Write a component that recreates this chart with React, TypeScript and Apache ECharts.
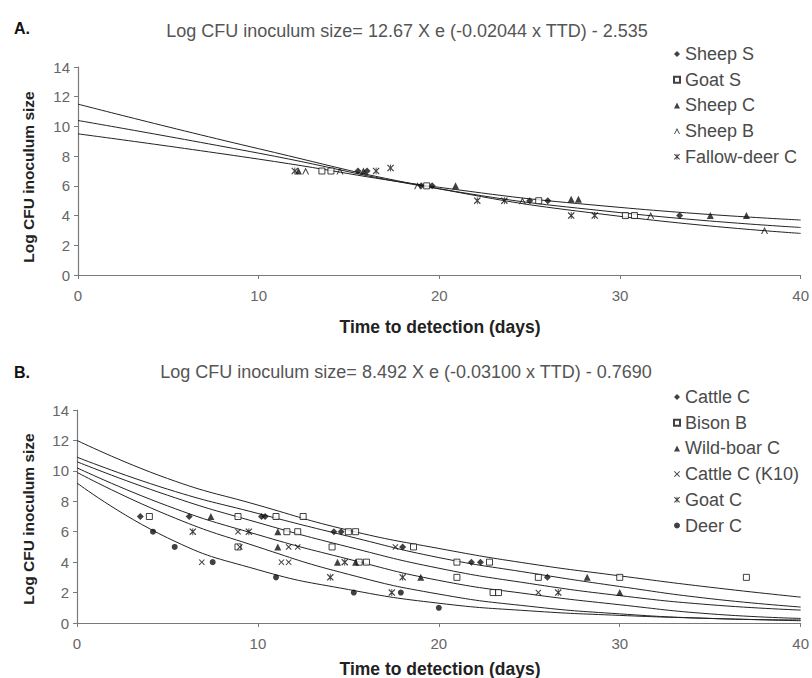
import React, { useEffect, useRef } from 'react';
import * as echarts from 'echarts';

// ---- texts ----
const panelLabelA = 'A.';
const panelLabelB = 'B.';
const titleA = 'Log CFU inoculum size= 12.67 X e (-0.02044 x TTD) - 2.535';
const titleB = 'Log CFU inoculum size= 8.492 X e (-0.03100 x TTD) - 0.7690';
const yAxisTitle = 'Log CFU inoculum size';
const xAxisTitle = 'Time to detection (days)';

// ---- axes ----
const xMin = 0, xMax = 40, xStep = 10;
const yMin = 0, yMax = 14, yStep = 2;

// ---- panel A data [days, log CFU] ----
const namesA = ['Sheep S', 'Goat S', 'Sheep C', 'Sheep B', 'Fallow-deer C'];
const sheepS = [[15.5, 7], [16.0, 7], [19.0, 6], [19.6, 6], [25.0, 5], [26.0, 5], [33.3, 4]];
const goatS = [[13.5, 7], [14.0, 7], [19.3, 6], [25.5, 5], [30.3, 4], [30.8, 4]];
const sheepC = [[12.2, 7], [15.8, 7], [20.9, 6], [27.3, 5.1], [27.7, 5.1], [35.0, 4], [37.0, 4]];
const sheepB = [[12.6, 7], [14.5, 7], [18.8, 6], [24.6, 5], [31.7, 4], [38.0, 3]];
const fallowDeerC = [[12.0, 7], [16.5, 7], [17.3, 7.2], [22.1, 5], [23.6, 5], [27.3, 4], [28.6, 4]];

const fitXA = [0, 10, 20, 30, 40];
const fitA1 = [11.5, 8.5, 5.8, 3.95, 2.8];
const fitA2 = [10.4, 8.2, 5.8, 4.2, 3.2];
const fitA3 = [9.5, 7.8, 5.9, 4.55, 3.7];

// ---- panel B data ----
const namesB = ['Cattle C', 'Bison B', 'Wild-boar C', 'Cattle C (K10)', 'Goat C', 'Deer C'];
const cattleC = [[3.5, 7], [6.2, 7], [10.2, 7], [10.4, 7], [14.2, 6], [14.6, 6], [18.0, 5], [21.8, 4], [22.3, 4], [26.0, 3]];
const bisonB = [[4.0, 7], [8.9, 7], [11.0, 7], [12.5, 7], [11.6, 6], [12.2, 6], [15.0, 6], [15.4, 6], [8.9, 5], [14.1, 5], [18.6, 5],
  [15.6, 4], [16.0, 4], [21.0, 3], [21.0, 4], [22.8, 4], [23.0, 2], [23.3, 2], [25.5, 3], [30.0, 3], [37.0, 3]];
const wildBoarC = [[7.4, 7], [11.1, 6], [11.1, 5], [14.4, 4], [15.4, 4], [19.0, 3], [28.2, 3], [30.0, 2]];
const cattleK10 = [[6.9, 4], [8.9, 6], [9.0, 5], [11.7, 5], [12.2, 5], [11.3, 4], [11.7, 4], [17.6, 5], [25.5, 2]];
const goatC = [[6.4, 6], [9.5, 6], [14.0, 3], [14.8, 4], [17.4, 2], [18.0, 3], [26.6, 2]];
const deerC = [[4.2, 6], [5.4, 5], [7.5, 4], [11.0, 3], [15.3, 2], [17.9, 2], [20.0, 1]];

const fitXB = [0, 5, 10, 15, 20, 25, 30, 35, 40];
const fitB1 = [12.0, 9.5, 7.75, 6.1, 4.9, 3.9, 3.1, 2.35, 1.7];
const fitB2 = [10.9, 8.8, 7.2, 5.7, 4.3, 3.3, 2.4, 1.6, 1.05];
const fitB3 = [10.6, 8.4, 6.6, 5.0, 3.6, 2.6, 1.8, 1.2, 0.85];
const fitB4 = [10.2, 7.7, 5.8, 4.2, 2.8, 1.9, 1.2, 0.6, 0.3];
const fitB5 = [9.9, 7.1, 5.0, 3.2, 1.9, 1.1, 0.6, 0.3, 0.2];
const fitB6 = [9.2, 5.6, 3.5, 2.2, 1.3, 0.8, 0.5, 0.3, 0.15];

// ---- symbols ----
const caret = 'path://M0,10L5,0L10,10L8.4,10L5,3.2L1.6,10Z';
const cross = 'path://M0,1.2L1.2,0L5,3.8L8.8,0L10,1.2L6.2,5L10,8.8L8.8,10L5,6.2L1.2,10L0,8.8L3.8,5Z';
const star = 'path://M0,1.2L1.2,0L5,3.8L8.8,0L10,1.2L6.2,5L10,8.8L8.8,10L5,6.2L1.2,10L0,8.8L3.8,5Z M4.4,0L5.6,0L5.6,10L4.4,10Z';

const FONT = 'Liberation Sans, Arial, sans-serif';

const App: React.FC = () => {
  const ref = useRef<HTMLDivElement>(null);
  useEffect(() => {
    if (!ref.current) return;
    const chart = echarts.init(ref.current, undefined, { renderer: 'svg' });

    const pts = (name: string, data: number[][], symbol: string, idx: number, size: number, open = false) => ({
      type: 'scatter', name, data, symbol, symbolSize: size, xAxisIndex: idx, yAxisIndex: idx, z: 3,
      itemStyle: open
        ? { color: '#ffffff', borderColor: '#111', borderWidth: 1 }
        : { color: '#111' },
    });
    const fit = (name: string, xs: number[], ys: number[], idx: number) => ({
      type: 'line', name, data: xs.map((x, i) => [x, ys[i]]), xAxisIndex: idx, yAxisIndex: idx,
      smooth: true, showSymbol: false, symbol: 'none', z: 2,
      lineStyle: { color: '#222', width: 1 },
    });

    const xAxis = (idx: number) => ({
      type: 'value', gridIndex: idx, min: xMin, max: xMax, interval: xStep,
      axisLine: { lineStyle: { color: '#7a7a7a', width: 1.2 } },
      axisTick: { show: true, length: 4, lineStyle: { color: '#7a7a7a' } },
      axisLabel: { color: '#666', fontSize: 15, fontFamily: FONT, margin: 13 },
      splitLine: { show: false },
    });
    const yAxis = (idx: number) => ({
      type: 'value', gridIndex: idx, min: yMin, max: yMax, interval: yStep,
      axisLine: { show: true, lineStyle: { color: '#7a7a7a', width: 1.2 } },
      axisTick: { show: true, length: 4, lineStyle: { color: '#7a7a7a' } },
      axisLabel: { color: '#666', fontSize: 15, fontFamily: FONT, margin: 8 },
      splitLine: { show: false },
    });
    const legend = (names: string[], top: number) => ({
      data: names, orient: 'vertical', left: 668, top,
      itemWidth: 6, itemHeight: 6, itemGap: 7.7,
      textStyle: { fontSize: 18, color: '#4a4a4a', fontFamily: FONT, lineHeight: 18 },
      selectedMode: false,
    });

    const txt = (text: string, x: number, y: number, size: number, bold: boolean, color: string, rot = 0) => ({
      type: 'text', x, y, rotation: rot,
      style: {
        text, fontSize: size, fontWeight: bold ? 'bold' : 'normal', fill: color, fontFamily: FONT,
        textAlign: 'center', textVerticalAlign: 'middle',
      },
    });

    chart.setOption({
      animation: false,
      backgroundColor: '#ffffff',
      grid: [
        { left: 78, top: 67, width: 725, height: 208 },
        { left: 77, top: 410, width: 727, height: 213 },
      ],
      xAxis: [xAxis(0), xAxis(1)],
      yAxis: [yAxis(0), yAxis(1)],
      legend: [legend(namesA, 40), legend(namesB, 383)],
      graphic: [
        txt(panelLabelA, 22, 28, 16, true, '#111'),
        txt(titleA, 407, 31, 18, false, '#555'),
        txt(yAxisTitle, 28, 177, 15.5, true, '#222', Math.PI / 2),
        txt(xAxisTitle, 440, 327, 17.5, true, '#222'),
        txt(panelLabelB, 22, 372, 16, true, '#111'),
        txt(titleB, 406, 372, 18, false, '#555'),
        txt(yAxisTitle, 28, 519, 15.5, true, '#222', Math.PI / 2),
        txt(xAxisTitle, 440, 669, 17.5, true, '#222'),
      ],
      series: [
        fit('fitA1', fitXA, fitA1, 0),
        fit('fitA2', fitXA, fitA2, 0),
        fit('fitA3', fitXA, fitA3, 0),
        pts(namesA[0], sheepS, 'diamond', 0, 7),
        pts(namesA[1], goatS, 'rect', 0, 6, true),
        pts(namesA[2], sheepC, 'triangle', 0, 7),
        pts(namesA[3], sheepB, caret, 0, 7),
        pts(namesA[4], fallowDeerC, star, 0, 7),
        fit('fitB1', fitXB, fitB1, 1),
        fit('fitB2', fitXB, fitB2, 1),
        fit('fitB3', fitXB, fitB3, 1),
        fit('fitB4', fitXB, fitB4, 1),
        fit('fitB5', fitXB, fitB5, 1),
        fit('fitB6', fitXB, fitB6, 1),
        pts(namesB[0], cattleC, 'diamond', 1, 7),
        pts(namesB[1], bisonB, 'rect', 1, 6, true),
        pts(namesB[2], wildBoarC, 'triangle', 1, 7),
        pts(namesB[3], cattleK10, cross, 1, 6),
        pts(namesB[4], goatC, star, 1, 7),
        pts(namesB[5], deerC, 'circle', 1, 6),
      ],
    });
    return () => chart.dispose();
  }, []);
  return (
    <div
      ref={ref}
      style={{ position: 'fixed', left: 0, top: 0, width: 812, height: 678, background: '#fff' }}
    />
  );
};

export default App;
